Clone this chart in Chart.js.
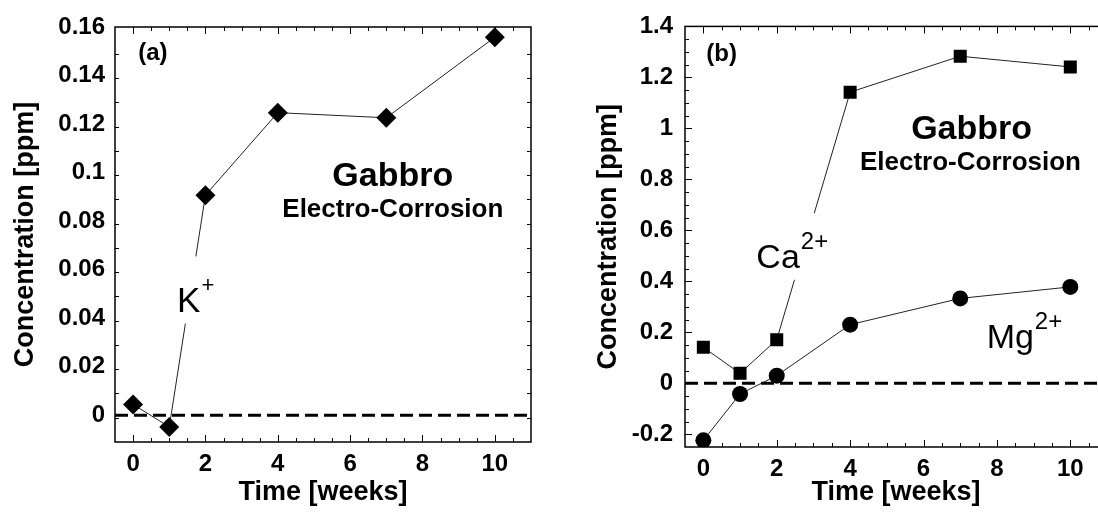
<!DOCTYPE html>
<html>
<head>
<meta charset="utf-8">
<script src="https://cdn.jsdelivr.net/npm/chart.js@4.4.1/dist/chart.umd.min.js"></script>
<style>
    html, body { margin: 0; padding: 0; background: #fff; overflow: hidden; width: 1098px; height: 515px; }
    #graficoA { position: absolute; left: 0; top: 0; }
    #graficoB { position: absolute; left: 560px; top: 0; }
</style>
</head>
<body>
<canvas id="graficoA" width="560" height="515"></canvas>
<canvas id="graficoB" width="560" height="515"></canvas>
<script>
// Dados
const semanas = [0, 1, 2, 4, 7, 10];
const potassio = [0.0045, -0.0048, 0.0907, 0.1247, 0.1226, 0.1558];
const calcio = [0.141, 0.039, 0.171, 1.142, 1.283, 1.241];
const magnesio = [-0.224, -0.042, 0.030, 0.230, 0.333, 0.378];

const xTicks = [0, 2, 4, 6, 8, 10];
const yTicksA = [0, 0.02, 0.04, 0.06, 0.08, 0.1, 0.12, 0.14, 0.16];
const yTicksB = [-0.2, 0, 0.2, 0.4, 0.6, 0.8, 1, 1.2, 1.4];

const FONTE = '"Liberation Sans", Arial, Helvetica, sans-serif';

function pontos(valores) {
    return semanas.map((s, i) => ({ x: s, y: valores[i] }));
}

function serie(valores, estilo, raio) {
    return {
        data: pontos(valores),
        showLine: true,
        borderColor: "#222",
        borderWidth: 1,
        pointStyle: estilo,
        pointRadius: raio,
        pointBackgroundColor: "#000",
        pointBorderColor: "#000",
        pointBorderWidth: 0,
        order: 1
    };
}

function linhaZero() {
    return {
        data: [{ x: -0.5, y: 0 }, { x: 11, y: 0 }],
        showLine: true,
        borderColor: "#000",
        borderWidth: 3,
        borderDash: [13, 6],
        pointRadius: 0,
        order: 2
    };
}

// Moldura com marcas para dentro nos quatro lados
function pluginMoldura(yTicks, yPasso, yMin, yMax) {
    return {
        id: "moldura",
        beforeDatasetsDraw(chart) {
            const { ctx, chartArea: a, scales: { x, y } } = chart;
            ctx.save();
            ctx.strokeStyle = "#000";
            ctx.lineWidth = 1.5;
            ctx.strokeRect(a.left, a.top, a.right - a.left, a.bottom - a.top);
            ctx.lineWidth = 1;
            ctx.beginPath();
            for (let i = 0; i <= 21; i++) {
                const v = i * 0.5;
                const len = xTicks.includes(v) ? 7 : 4;
                const px = Math.round(x.getPixelForValue(v)) + 0.5;
                ctx.moveTo(px, a.bottom); ctx.lineTo(px, a.bottom - len);
                ctx.moveTo(px, a.top); ctx.lineTo(px, a.top + len);
            }
            const n = Math.round((yMax - yMin) / yPasso);
            for (let i = 1; i < n; i++) {
                const v = yMin + i * yPasso;
                const len = yTicks.some(t => Math.abs(t - v) < 1e-9) ? 7 : 4;
                const py = Math.round(y.getPixelForValue(v)) + 0.5;
                ctx.moveTo(a.left, py); ctx.lineTo(a.left + len, py);
                ctx.moveTo(a.right, py); ctx.lineTo(a.right - len, py);
            }
            ctx.stroke();
            ctx.restore();
        }
    };
}

// Textos dentro do gráfico
function pluginNotas(itens) {
    return {
        id: "notas",
        afterDatasetsDraw(chart) {
            const { ctx, scales: { x, y } } = chart;
            itens.forEach(n => {
                const px = x.getPixelForValue(n.x);
                const py = y.getPixelForValue(n.y);
                ctx.save();
                const fonte = (n.peso || "normal") + " " + n.tamanho + "px " + FONTE;
                const fonteSup = "normal " + (n.tamanhoSup || 22) + "px " + FONTE;
                ctx.font = fonte;
                ctx.textAlign = n.alinhar;
                ctx.textBaseline = n.base;
                const w = ctx.measureText(n.texto).width;
                let ws = 0;
                if (n.sup) {
                    ctx.font = fonteSup;
                    ws = ctx.measureText(n.sup).width;
                    ctx.font = fonte;
                }
                if (n.fundo) {
                    const cap = n.tamanho * 0.72;
                    ctx.fillStyle = "#fff";
                    ctx.fillRect(px - 3, py - cap - 30, w + ws + 6, cap + 42);
                }
                ctx.fillStyle = "#000";
                ctx.fillText(n.texto, px, py);
                if (n.sup) {
                    ctx.font = fonteSup;
                    ctx.textAlign = "left";
                    ctx.fillText(n.sup, px + w + 1, py - n.tamanho * 0.55);
                }
                ctx.restore();
            });
        }
    };
}

function criarGrafico(id, conjuntos, cfg) {
    const canvas = document.getElementById(id);
    const fonteEixo = { family: FONTE, size: 24, weight: "bold" };
    const fonteTitulo = { family: FONTE, size: 27, weight: "bold" };
    return new Chart(canvas.getContext("2d"), {
        type: "scatter",
        data: { datasets: conjuntos },
        options: {
            responsive: false,
            animation: false,
            devicePixelRatio: 1,
            layout: { padding: { top: cfg.area.top, right: canvas.width - cfg.area.right, left: 0, bottom: 0 } },
            plugins: { legend: { display: false }, tooltip: { enabled: false } },
            elements: { line: { tension: 0 } },
            scales: {
                x: {
                    type: "linear",
                    min: -0.5,
                    max: 11,
                    grid: { display: false, drawTicks: false },
                    border: { display: false },
                    afterBuildTicks: s => { s.ticks = xTicks.map(v => ({ value: v })); },
                    afterFit: s => { s.height = canvas.height - cfg.area.bottom; },
                    ticks: { font: fonteEixo, color: "#000", padding: 8, maxRotation: 0, autoSkip: false },
                    title: { display: true, text: "Time [weeks]", font: fonteTitulo, color: "#000", padding: { top: 0, bottom: 6 } }
                },
                y: {
                    type: "linear",
                    min: cfg.yMin,
                    max: cfg.yMax,
                    grid: { display: false, drawTicks: false },
                    border: { display: false },
                    afterBuildTicks: s => { s.ticks = cfg.yTicks.map(v => ({ value: v })); },
                    afterFit: s => { s.width = cfg.area.left; },
                    ticks: {
                        font: fonteEixo, color: "#000", padding: cfg.yPad, autoSkip: false,
                        callback: v => String(+v.toFixed(4))
                    },
                    title: { display: true, text: "Concentration [ppm]", font: fonteTitulo, color: "#000", padding: { top: cfg.yTitulo, bottom: 0 } }
                }
            }
        },
        plugins: [pluginMoldura(cfg.yTicks, cfg.yPasso, cfg.yMin, cfg.yMax), pluginNotas(cfg.notas)]
    });
}

document.addEventListener("DOMContentLoaded", function () {
    // Painel (a) - K+
    criarGrafico("graficoA", [serie(potassio, "rectRot", 10), linhaZero()], {
        area: { left: 115, right: 531, top: 27, bottom: 442 },
        yMin: -0.011, yMax: 0.16, yPasso: 0.01, yTicks: yTicksA, yPad: 10, yTitulo: 9,
        notas: [
            { texto: "(a)", x: 0.14, y: 0.1493, tamanho: 24, peso: "bold", alinhar: "left", base: "middle" },
            { texto: "Gabbro", x: 7.18, y: 0.0983, tamanho: 34, peso: "bold", alinhar: "center", base: "middle" },
            { texto: "Electro-Corrosion", x: 7.18, y: 0.0847, tamanho: 26, peso: "bold", alinhar: "center", base: "middle" },
            { texto: "K", sup: "+", x: 1.215, y: 0.0427, tamanho: 35, alinhar: "left", base: "alphabetic", fundo: true }
        ]
    });

    // Painel (b) - Ca2+ e Mg2+
    criarGrafico("graficoB", [serie(calcio, "rect", 9.2), serie(magnesio, "circle", 8), linhaZero()], {
        area: { left: 125, right: 547, top: 25, bottom: 447 },
        yMin: -0.25, yMax: 1.4, yPasso: 0.05, yTicks: yTicksB, yPad: 12, yTitulo: 32,
        notas: [
            { texto: "(b)", x: 0.08, y: 1.29, tamanho: 24, peso: "bold", alinhar: "left", base: "middle" },
            { texto: "Gabbro", x: 7.31, y: 0.997, tamanho: 34, peso: "bold", alinhar: "center", base: "middle" },
            { texto: "Electro-Corrosion", x: 7.28, y: 0.864, tamanho: 26, peso: "bold", alinhar: "center", base: "middle" },
            { texto: "Ca", sup: "2+", x: 1.445, y: 0.453, tamanho: 34, tamanhoSup: 24, alinhar: "left", base: "alphabetic", fundo: true },
            { texto: "Mg", sup: "2+", x: 7.72, y: 0.14, tamanho: 34, tamanhoSup: 24, alinhar: "left", base: "alphabetic" }
        ]
    });
});
</script>
</body>
</html>
